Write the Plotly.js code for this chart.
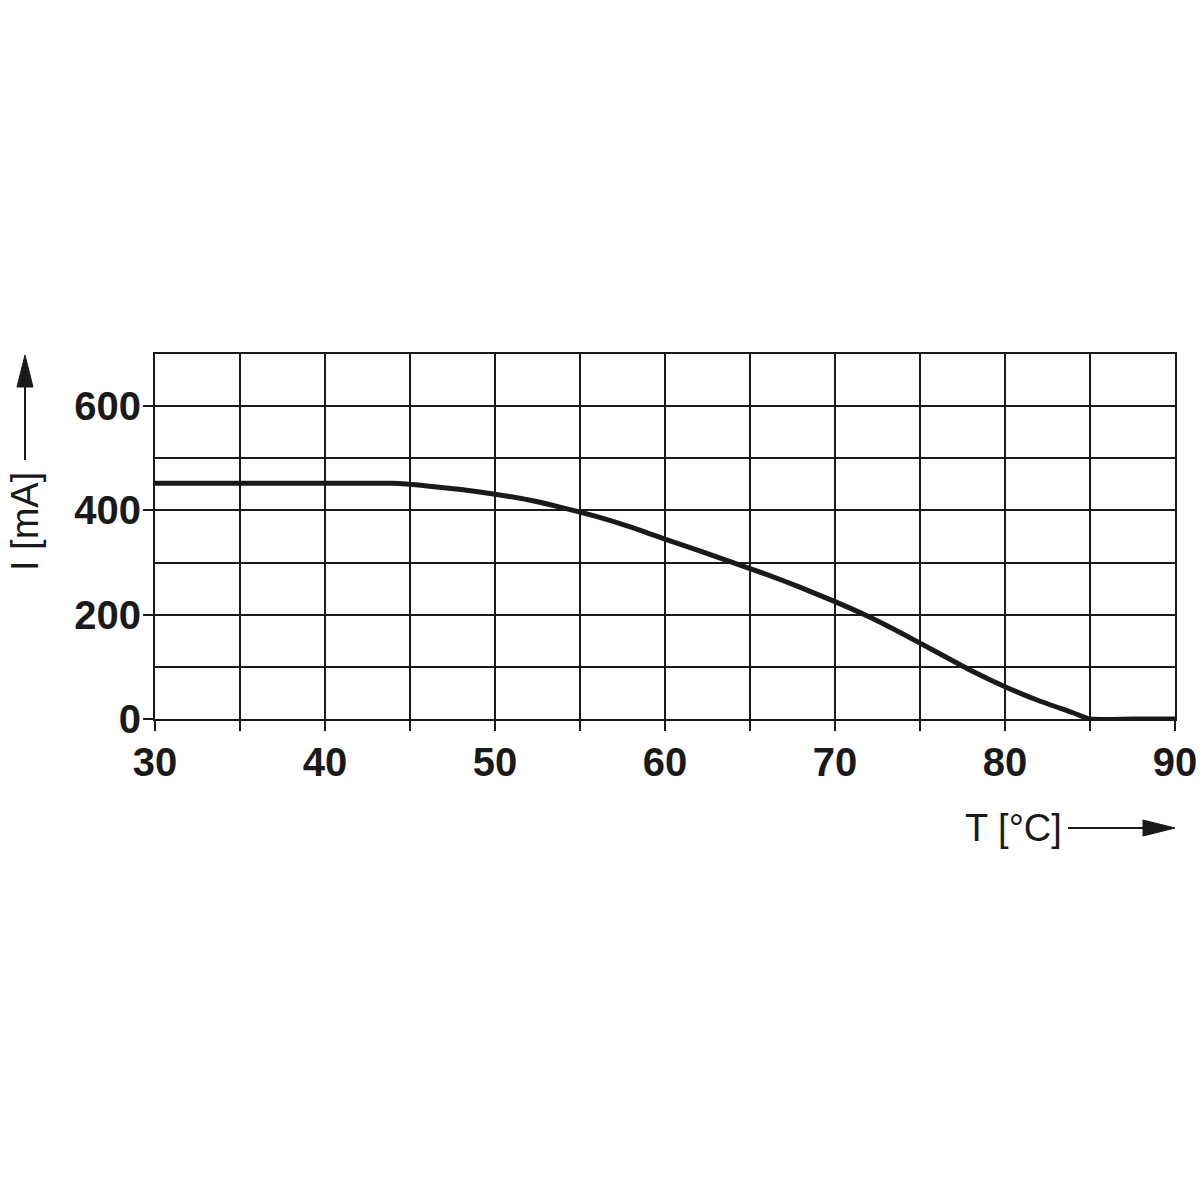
<!DOCTYPE html>
<html>
<head>
<meta charset="utf-8">
<script src="https://cdn.plot.ly/plotly-3.0.1.min.js"></script>
<style>html,body{margin:0;padding:0;background:#fff}#chart{width:1200px;height:1200px}</style>
</head>
<body>
<div id="chart"></div>
<script>
// Temperature [°C]
const temperature = [30, 35, 40, 44, 46, 48, 50, 52, 54, 56, 58, 60, 62, 64, 66, 68, 70, 72, 74, 76, 78, 80, 82, 84, 85, 87.5, 90];
// Current [mA]
const current = [452, 452, 452, 452, 447, 440, 431, 420, 405, 388, 368, 345, 323, 300, 277, 252, 225, 196, 163, 128, 93, 62, 35, 12, 0, 0, 0];

const xTickVals = [30, 40, 50, 60, 70, 80, 90];
const yTickVals = [0, 200, 400, 600];
const xTitle = 'T [°C]';
const yTitle = 'I [mA]';

const ink = '#1a1a1a';
const tickFont = {family: 'Liberation Sans, Arial, sans-serif', size: 40, color: ink, weight: 'bold'};
const titleFont = {family: 'Liberation Sans, Arial, sans-serif', size: 38, color: ink};

const trace = {
  x: temperature, y: current, type: 'scatter', mode: 'lines',
  line: {color: ink, width: 5, shape: 'spline', smoothing: 0.5},
  hoverinfo: 'skip', cliponaxis: false
};

const layout = {
  width: 1200, height: 1200,
  margin: {l: 155, r: 25, t: 354, b: 481},
  paper_bgcolor: '#fff', plot_bgcolor: '#fff',
  showlegend: false,
  xaxis: {
    range: [30, 90], tickvals: xTickVals, ticktext: xTickVals.map(String),
    ticks: 'outside', ticklen: 10, tickwidth: 2, tickcolor: ink,
    showgrid: true, gridcolor: ink, gridwidth: 2,
    minor: {dtick: 5, showgrid: true, gridcolor: ink, gridwidth: 2, ticks: 'outside', ticklen: 10, tickwidth: 2, tickcolor: ink},
    showline: true, linecolor: ink, linewidth: 2, mirror: true,
    zeroline: false, tickfont: tickFont, ticklabelstandoff: -3
  },
  yaxis: {
    range: [0, 700], tickvals: yTickVals, ticktext: yTickVals.map(String),
    ticks: 'outside', ticklen: 10, tickwidth: 2, tickcolor: ink,
    showgrid: true, gridcolor: ink, gridwidth: 2,
    minor: {dtick: 100, showgrid: true, gridcolor: ink, gridwidth: 2, ticks: ''},
    showline: true, linecolor: ink, linewidth: 2, mirror: true,
    zeroline: false, tickfont: tickFont, ticklabelstandoff: -6
  },
  annotations: [
    {text: xTitle, xref: 'paper', yref: 'paper', x: (1064 - 155) / 1020, y: (719 - 828) / 365,
     xanchor: 'right', yanchor: 'middle', showarrow: false, font: titleFont},
    {text: yTitle, xref: 'paper', yref: 'paper', x: (25 - 155) / 1020, y: (719 - 522) / 365,
     xanchor: 'center', yanchor: 'middle', textangle: -90, showarrow: false, font: titleFont}
  ],
  shapes: [
    // x-axis arrow
    {type: 'line', xref: 'paper', yref: 'paper', x0: (1068 - 155) / 1020, x1: (1150 - 155) / 1020,
     y0: (719 - 828) / 365, y1: (719 - 828) / 365, line: {color: ink, width: 2}},
    {type: 'path', xref: 'paper', yref: 'paper', fillcolor: ink, line: {color: ink, width: 1},
     path: 'M ' + ((1175 - 155) / 1020) + ' ' + ((719 - 828) / 365) +
           ' L ' + ((1143 - 155) / 1020) + ' ' + ((719 - 820) / 365) +
           ' L ' + ((1143 - 155) / 1020) + ' ' + ((719 - 836) / 365) + ' Z'},
    // y-axis arrow
    {type: 'line', xref: 'paper', yref: 'paper', x0: (25 - 155) / 1020, x1: (25 - 155) / 1020,
     y0: (719 - 460) / 365, y1: (719 - 382) / 365, line: {color: ink, width: 2}},
    {type: 'path', xref: 'paper', yref: 'paper', fillcolor: ink, line: {color: ink, width: 1},
     path: 'M ' + ((25 - 155) / 1020) + ' ' + ((719 - 355) / 365) +
           ' L ' + ((17 - 155) / 1020) + ' ' + ((719 - 387) / 365) +
           ' L ' + ((33 - 155) / 1020) + ' ' + ((719 - 387) / 365) + ' Z'}
  ]
};

Plotly.newPlot('chart', [trace], layout, {displayModeBar: false, staticPlot: true});
</script>
</body>
</html>
